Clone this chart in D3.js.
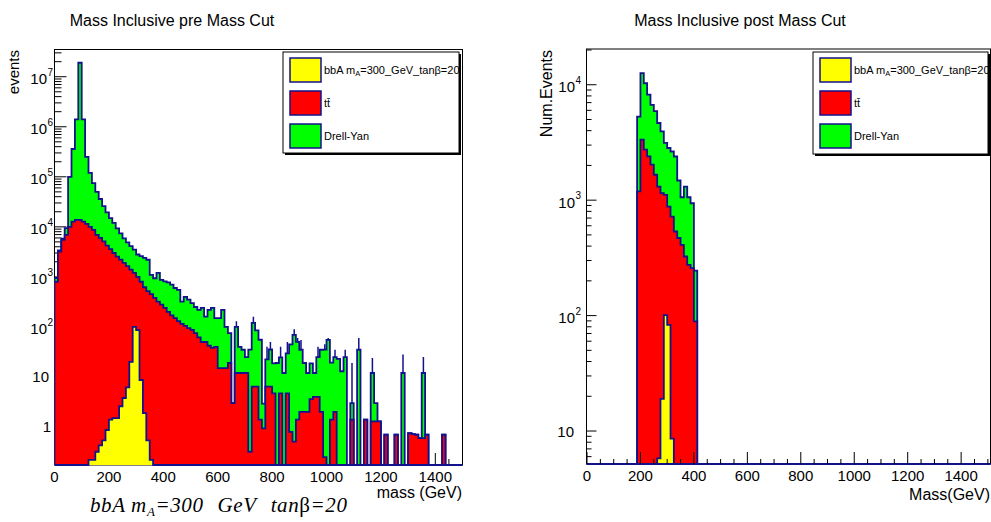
<!DOCTYPE html>
<html>
<head>
<meta charset="utf-8">
<script src="https://cdn.jsdelivr.net/npm/d3@7"></script>
<style>
body { margin: 0; background: #fff; }
text { font-family: "Liberation Sans", Arial, sans-serif; fill: #000; }
</style>
</head>
<body>
<script>
// mass histograms, 12.5 GeV bins
var binWidth = 12.5;

// pre mass cut: 120 bins from 0 to 1500 GeV
var preSignal = [
  0, 0, 0, 0, 0, 0, 0, 0, 0, 0,
  0.22, 0.22, 0.32, 0.43, 0.54, 0.87, 1.4, 1.5, 1.5, 2.6,
  3.8, 6.2, 20, 100, 86, 8.7, 1.9, 0.54, 0.22, 0,
  0, 0, 0, 0, 0, 0, 0, 0, 0, 0,
  0, 0, 0, 0, 0, 0, 0, 0, 0, 0,
  0, 0, 0, 0, 0, 0, 0, 0, 0, 0,
  0, 0, 0, 0, 0, 0, 0, 0, 0, 0,
  0, 0, 0, 0, 0, 0, 0, 0, 0, 0,
  0, 0, 0, 0, 0, 0, 0, 0, 0, 0,
  0, 0, 0, 0, 0, 0, 0, 0, 0, 0,
  0, 0, 0, 0, 0, 0, 0, 0, 0, 0,
  0, 0, 0, 0, 0, 0, 0, 0, 0, 0
];
var preTtbar = [
  800, 3200, 5500, 6900, 10000, 12700, 13800, 13800, 12700, 11500,
  10000, 8700, 6900, 6000, 5100, 4200, 3600, 3000, 2550, 2200,
  1900, 1640, 1380, 1100, 914, 790, 618, 520, 450, 380,
  320, 280, 240, 200, 170, 150, 130, 115, 105, 95,
  87, 75, 62, 50, 50, 42, 38, 40, 15, 15,
  15, 19, 3, 12, 12, 12, 12, 0.32, 6.4, 6.4,
  1.4, 0.94, 6.4, 6.4, 4.7, 0, 4.7, 0, 4.7, 0.8,
  0.51, 1.4, 2, 2, 2, 3.6, 4, 4, 2, 0.25,
  0, 1.4, 2, 0, 0, 0, 0, 1.4, 0, 0,
  0, 1.4, 0, 1.3, 1.3, 1.3, 0, 0.7, 0, 0,
  0.7, 0, 0, 0, 0.75, 0.72, 0.7, 0.6, 0.6, 0.7,
  0, 0, 0, 0, 0.7, 0, 0, 0, 0, 0
];
var preDY = [
  150, 200, 300, 2500, 90000, 347000, 1386000, 18990000, 1387000, 238500,
  110000, 66300, 43100, 30000, 20900, 15300, 11400, 9000, 6750, 5200,
  4000, 3250, 2700, 2300, 1800, 1800, 1780, 1680, 650, 560,
  880, 590, 570, 580, 530, 450, 420, 205, 295, 255,
  213, 175, 158, 190, 110, 178, 202, 110, 135, 205,
  85, 56, 0, 88, 28, 23, 13, 35, 114, 79,
  54, 2, 16, 29, 14, 19, 20, 12, 25, 44,
  69, 49, 33, 17, 10, 15, 8, 21, 33, 35,
  55, 18, 23, 23, 13, 25, 0, 1.6, 0, 35,
  0, 0, 0, 10.7, 1.7, 0, 0, 0, 0, 0,
  0, 0, 12, 0, 0, 0, 0, 0, 11.4, 0,
  0, 0, 0, 0, 0, 0, 0, 0, 0, 0
];
// upper ends of the error bars seen in the tail
var preErrBin = [53, 58, 62, 63, 66, 68, 70, 71, 72, 77, 79, 80, 82, 85, 87, 89, 93, 102, 108];
var preErrTop = [130, 160, 40, 50, 40, 50, 90, 60, 55, 40, 45, 60, 35, 35, 19, 60, 24, 28, 25];

// post mass cut: 18 bins from 187.5 GeV
var postStart = 187.5;
var postSignal = [0, 0, 0, 0, 0, 0, 5.8, 19, 101, 83, 8.6, 0, 0, 0, 0, 0, 0, 0];
var postTtbar = [1190, 3340, 2740, 2400, 2030, 1660, 1304, 1131, 1009, 797, 711, 535, 470, 410, 325, 275, 258, 89];
var postDY = [4110, 9260, 7560, 5800, 4670, 4240, 3350, 2790, 2020, 1950, 1920, 1855, 1010, 650, 985, 785, 682, 156];

var legendLabels = ["bbA m", "tt", "Drell-Yan"];
var keys = ["signal", "ttbar", "dy"];
var colors = ["#ffff00", "#ff0000", "#00ff00"];
var lineColor = "#12128c";

var svg = d3.select("body").append("svg")
    .attr("width", 991)
    .attr("height", 522);

function makeRows(sig, tt, dy, start) {
  return sig.map(function(d, i) {
    return {lo: start + i * binWidth, signal: d, ttbar: tt[i], dy: dy[i]};
  });
}

var stack = d3.stack().keys(keys);

function drawHists(g, layers, x, y, clipId) {
  var bottom = y.range()[0];
  var xd = x.domain();
  function yv(v) { return v > y.domain()[0] ? y(v) : bottom; }
  var line = d3.line().curve(d3.curveStepAfter);
  var hg = g.append("g").attr("clip-path", "url(#" + clipId + ")");
  // draw the biggest cumulative first so the smaller ones sit on top
  for (var k = layers.length - 1; k >= 0; k--) {
    var layer = layers[k];
    var pts = [[x(xd[0]), bottom]];
    layer.forEach(function(d) { pts.push([x(d.data.lo), yv(d[1])]); });
    var last = layer[layer.length - 1];
    pts.push([x(last.data.lo + binWidth), yv(last[1])]);
    pts.push([x(last.data.lo + binWidth), bottom]);
    pts.push([x(xd[1]), bottom]);
    hg.append("path")
      .attr("d", line(pts) + "Z")
      .attr("fill", colors[k])
      .attr("stroke", "none");
    hg.append("path")
      .attr("d", line(pts))
      .attr("fill", "none")
      .attr("stroke", lineColor)
      .attr("stroke-width", 1.8);
  }
  return hg;
}

function addClip(id, x0, y0, w, h) {
  svg.append("clipPath").attr("id", id)
    .append("rect").attr("x", x0).attr("y", y0).attr("width", w).attr("height", h);
}

function logAxis(g, y, x0, majLen, minLen, labelFn) {
  y.ticks().forEach(function(v) {
    var e = Math.round(Math.log10(v));
    var major = Math.abs(v - Math.pow(10, e)) < 1e-9 * v;
    g.append("line")
      .attr("x1", x0).attr("x2", x0 + (major ? majLen : minLen))
      .attr("y1", y(v)).attr("y2", y(v))
      .attr("stroke", "#000").attr("stroke-width", 1);
    if (major) labelFn(e, y(v));
  });
}

function xAxis(g, x, y0, majLen, minLen, labelY) {
  d3.range(0, 1501, 50).forEach(function(v) {
    var major = v % 200 === 0;
    g.append("line")
      .attr("x1", x(v)).attr("x2", x(v))
      .attr("y1", y0).attr("y2", y0 - (major ? majLen : minLen))
      .attr("stroke", "#000").attr("stroke-width", 1);
    if (major && v <= 1400) {
      g.append("text")
        .attr("x", x(v)).attr("y", labelY)
        .attr("text-anchor", "middle")
        .attr("font-size", 15)
        .text(v);
    }
  });
}

function legend(g, x0, y0, w, h) {
  g.append("rect")
    .attr("x", x0 + 2).attr("y", y0 + 2).attr("width", w).attr("height", h)
    .attr("fill", "#000");
  g.append("rect")
    .attr("x", x0).attr("y", y0).attr("width", w).attr("height", h)
    .attr("fill", "#fff").attr("stroke", "#000").attr("stroke-width", 1);
  legendLabels.forEach(function(lab, i) {
    var by = y0 + 6 + i * 33;
    g.append("rect")
      .attr("x", x0 + 7).attr("y", by).attr("width", 31).attr("height", 24)
      .attr("fill", colors[i]).attr("stroke", lineColor).attr("stroke-width", 1.5);
    var t = g.append("text")
      .attr("x", x0 + 41).attr("y", by + 16)
      .attr("font-size", 11);
    if (i === 0) {
      t.append("tspan").text(lab);
      t.append("tspan").attr("font-size", 7.5).attr("dy", 2).text("A");
      t.append("tspan").attr("dy", -2).text("=300_GeV_tan\u03b2=20");
    } else if (i === 1) {
      t.text("tt\u0304");
    } else {
      t.text(lab);
    }
  });
}

// ---------------- left: pre mass cut ----------------
var xL = d3.scaleLinear().domain([0, 1500]).range([54.5, 462.5]);
var yL = d3.scaleLog().domain([0.174, 3.5e7]).range([465, 49.5]).clamp(true);
var gL = svg.append("g");

addClip("clipL", 54.5, 49.5, 408, 417);

gL.append("rect")
  .attr("x", 54.5).attr("y", 49.5).attr("width", 408).attr("height", 415.5)
  .attr("fill", "none").attr("stroke", "#000").attr("stroke-width", 1);

logAxis(gL, yL, 54.5, 12, 7, function(e, yy) {
  if (e <= 1) {
    gL.append("text").attr("x", e === 0 ? 51 : 49).attr("y", yy + 5.5)
      .attr("text-anchor", "end").attr("font-size", 15).text(e === 0 ? "1" : "10");
  } else {
    gL.append("text").attr("x", 47).attr("y", yy + 7.5)
      .attr("text-anchor", "end").attr("font-size", 15).text("10");
    gL.append("text").attr("x", 47.5).attr("y", yy - 1)
      .attr("font-size", 10).text(e);
  }
});
xAxis(gL, xL, 465, 12, 6, 482);

var preLayers = stack(makeRows(preSignal, preTtbar, preDY, 0));
var hL = drawHists(gL, preLayers, xL, yL, "clipL");

// error bars on the tail
var tops = preLayers[2];
preErrBin.forEach(function(b, i) {
  var xc = xL(tops[b].data.lo + binWidth / 2);
  hL.append("line")
    .attr("x1", xc).attr("x2", xc)
    .attr("y1", yL(Math.max(tops[b][1], 0.174))).attr("y2", yL(preErrTop[i]))
    .attr("stroke", lineColor).attr("stroke-width", 1.5);
});

gL.append("text").attr("x", 172).attr("y", 26)
  .attr("text-anchor", "middle").attr("font-size", 16)
  .text("Mass Inclusive pre Mass Cut");
gL.append("text").attr("x", 462).attr("y", 498)
  .attr("text-anchor", "end").attr("font-size", 16)
  .text("mass (GeV)");
gL.append("text")
  .attr("transform", "translate(18.5,50) rotate(-90)")
  .attr("text-anchor", "end").attr("font-size", 15)
  .text("events");

legend(gL, 283, 52, 176, 101);

var cap = gL.append("text")
  .attr("x", 90).attr("y", 512)
  .attr("font-size", 21)
  .attr("letter-spacing", 0.6)
  .style("font-family", "'Liberation Serif', 'Times New Roman', serif")
  .style("font-style", "italic")
  .attr("xml:space", "preserve");
cap.append("tspan").text("bbA m");
cap.append("tspan").attr("font-size", 13).attr("dy", 4).text("A");
cap.append("tspan").attr("dy", -4).text("=300");
cap.append("tspan").attr("dx", 14).text("GeV");
cap.append("tspan").attr("dx", 14).text("tan");
cap.append("tspan").style("font-style", "normal").text("\u03b2");
cap.append("tspan").text("=20");

// ---------------- right: post mass cut ----------------
var xR = d3.scaleLinear().domain([0, 1508]).range([587, 990]);
var yR = d3.scaleLog().domain([5.18, 2.04e4]).range([464, 49]).clamp(true);
var gR = svg.append("g");

addClip("clipR", 586.5, 49, 404, 417);

var postLayers = stack(makeRows(postSignal, postTtbar, postDY, postStart));
drawHists(gR, postLayers, xR, yR, "clipR");

gR.append("rect")
  .attr("x", 586.5).attr("y", 49).attr("width", 404).attr("height", 415)
  .attr("fill", "none").attr("stroke", "#000").attr("stroke-width", 1);
gR.append("line")
  .attr("x1", 586.5).attr("x2", 990.5).attr("y1", 464).attr("y2", 464)
  .attr("stroke", lineColor).attr("stroke-width", 1.8);

logAxis(gR, yR, 586.5, 10, 5, function(e, yy) {
  if (e === 1) {
    gR.append("text").attr("x", 574).attr("y", yy + 5.5)
      .attr("text-anchor", "end").attr("font-size", 15).text("10");
  } else {
    gR.append("text").attr("x", 575).attr("y", yy + 7.5)
      .attr("text-anchor", "end").attr("font-size", 15).text("10");
    gR.append("text").attr("x", 575.5).attr("y", yy - 1)
      .attr("font-size", 10).text(e);
  }
});
xAxis(gR, xR, 464, 12, 5, 481);

gR.append("text").attr("x", 740).attr("y", 26)
  .attr("text-anchor", "middle").attr("font-size", 16)
  .text("Mass Inclusive post Mass Cut");
gR.append("text").attr("x", 990).attr("y", 500)
  .attr("text-anchor", "end").attr("font-size", 16)
  .text("Mass(GeV)");
gR.append("text")
  .attr("transform", "translate(552,50) rotate(-90)")
  .attr("text-anchor", "end").attr("font-size", 16)
  .text("Num.Events");

legend(gR, 813, 52, 175, 102);
</script>
</body>
</html>
